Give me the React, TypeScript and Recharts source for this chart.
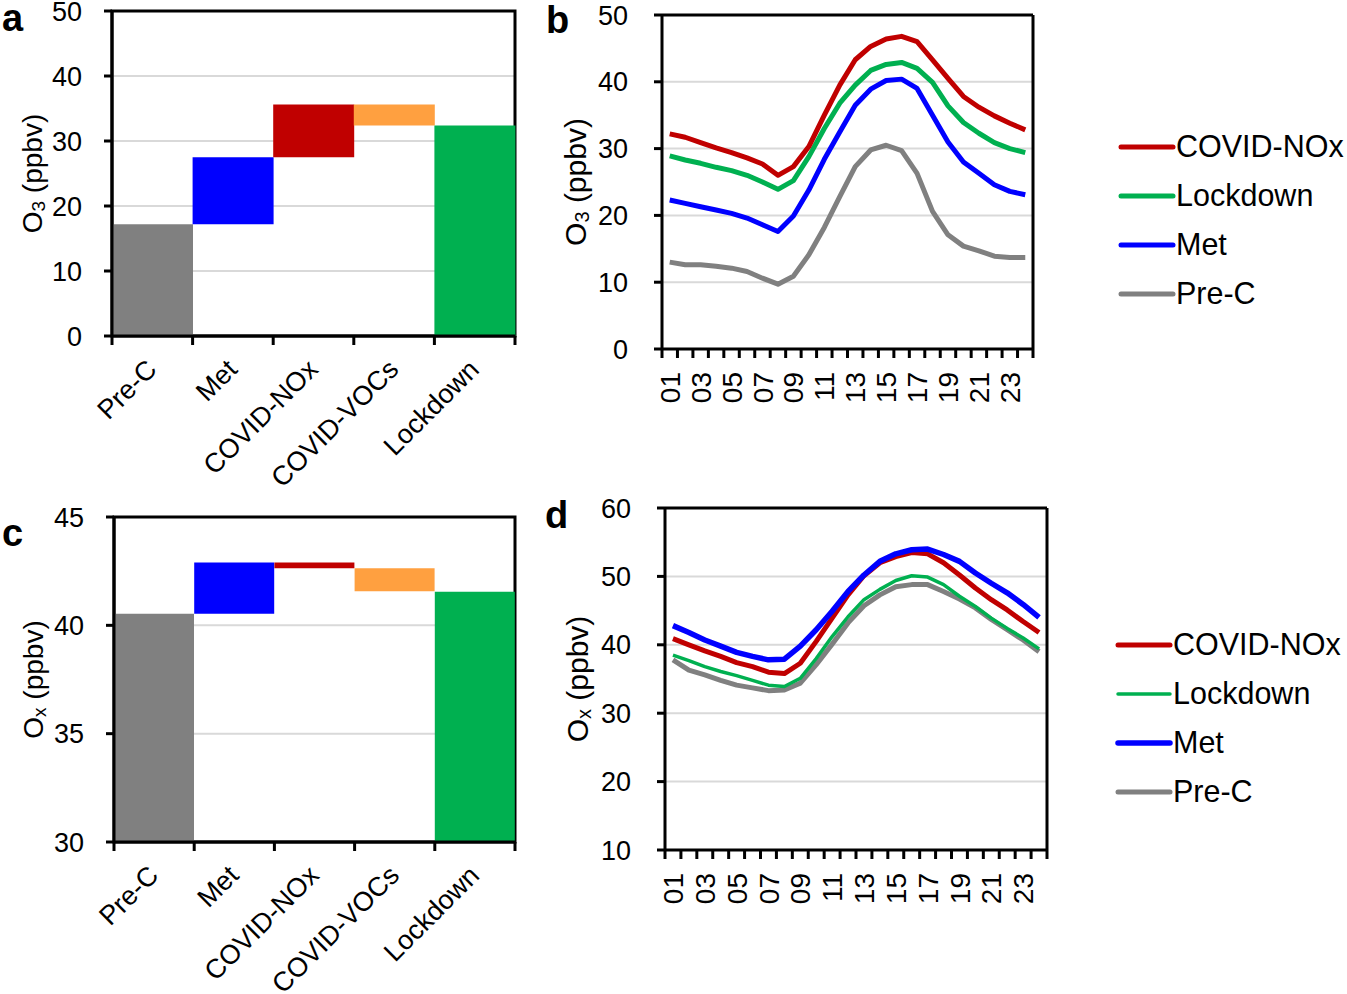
import React from "react";
import {
  BarChart,
  Bar,
  Cell,
  LineChart,
  Line,
  XAxis,
  YAxis,
  CartesianGrid,
  ReferenceArea,
  Legend,
} from "recharts";

const FONT = "'Liberation Sans', Arial, sans-serif";

// waterfall steps (panels a and c)
const steps = ["Pre-C", "Met", "COVID-NOx", "COVID-VOCs", "Lockdown"];
const stepColors = ["#808080", "#0000FF", "#C00000", "#FFA040", "#00B050"];

// a: O3 (ppbv), bottom and top of each step
const o3StepLow = [0, 17.2, 27.5, 32.4, 0];
const o3StepHigh = [17.2, 27.5, 35.6, 35.6, 32.4];

// c: Ox (ppbv)
const oxStepLow = [0, 40.54, 42.64, 41.57, 0];
const oxStepHigh = [40.54, 42.9, 42.9, 42.64, 41.55];

// diurnal cycle (panels b and d)
const hours = [
  "01", "02", "03", "04", "05", "06", "07", "08", "09", "10", "11", "12",
  "13", "14", "15", "16", "17", "18", "19", "20", "21", "22", "23", "24",
];

const o3Nox = [32.2, 31.7, 30.9, 30.1, 29.4, 28.6, 27.7, 26.0, 27.3, 30.3, 35.0, 39.5, 43.3, 45.3, 46.4, 46.8, 46.0, 43.3, 40.5, 37.8, 36.2, 34.9, 33.8, 32.8];
const o3Lockdown = [28.9, 28.3, 27.8, 27.2, 26.7, 26.0, 25.0, 23.9, 25.2, 28.8, 33.0, 36.8, 39.5, 41.7, 42.6, 42.9, 42.0, 39.9, 36.4, 33.9, 32.3, 30.9, 30.0, 29.4];
const o3Met = [22.3, 21.8, 21.3, 20.8, 20.3, 19.6, 18.6, 17.6, 19.9, 23.8, 28.4, 32.5, 36.5, 38.9, 40.2, 40.4, 39.0, 35.0, 31.0, 28.0, 26.3, 24.6, 23.6, 23.1];
const o3PreC = [13.0, 12.6, 12.6, 12.4, 12.1, 11.6, 10.6, 9.7, 10.9, 14.1, 18.2, 22.8, 27.3, 29.8, 30.5, 29.7, 26.3, 20.6, 17.1, 15.4, 14.7, 13.9, 13.7, 13.7];

const oxMet = [42.8, 41.8, 40.7, 39.8, 38.9, 38.3, 37.8, 37.9, 39.8, 42.2, 44.9, 47.8, 50.2, 52.2, 53.3, 53.9, 54.0, 53.2, 52.2, 50.5, 49.0, 47.6, 45.9, 44.0];
const oxNox = [40.9, 40.0, 39.1, 38.3, 37.4, 36.8, 36.0, 35.8, 37.3, 40.5, 43.9, 47.3, 50.1, 52.0, 52.9, 53.5, 53.3, 52.0, 50.2, 48.3, 46.6, 45.1, 43.4, 41.8];
const oxLockdown = [38.5, 37.7, 36.8, 36.1, 35.5, 34.8, 34.1, 33.9, 35.1, 38.0, 41.2, 44.1, 46.6, 48.1, 49.4, 50.1, 49.9, 48.8, 47.1, 45.6, 43.9, 42.4, 41.0, 39.4];
const oxPreC = [37.8, 36.3, 35.6, 34.8, 34.1, 33.7, 33.3, 33.4, 34.4, 37.1, 40.1, 43.2, 45.7, 47.3, 48.5, 48.8, 48.8, 47.8, 46.7, 45.4, 43.7, 42.2, 40.7, 39.0];

const o3Ticks = [0, 10, 20, 30, 40, 50];
const oxStepTicks = [30, 35, 40, 45];
const oxTicks = [10, 20, 30, 40, 50, 60];

// legend order, as in the figure
const seriesInfo = [
  { key: "nox", name: "COVID-NOx", color: "#C00000" },
  { key: "lockdown", name: "Lockdown", color: "#00B050" },
  { key: "met", name: "Met", color: "#0000FF" },
  { key: "preC", name: "Pre-C", color: "#808080" },
];

const stepData = (low: number[], high: number[]) =>
  steps.map((s, i) => ({ step: s, range: [low[i], high[i]] }));

const hourData = (nox: number[], lockdown: number[], met: number[], preC: number[]) =>
  hours.map((h, i) => ({ hour: h, nox: nox[i], lockdown: lockdown[i], met: met[i], preC: preC[i] }));

const axisLine = { stroke: "#000", strokeWidth: 3 };

function AxisTitle(props: any) {
  const { viewBox, sub, dx, size } = props;
  const vb = viewBox || { x: 0, y: 0, width: 0, height: 0 };
  const cx = vb.x + dx;
  const cy = vb.y + vb.height / 2;
  const subSize = Math.round(size * 0.68);
  const shift = Math.round(size * 0.22);
  return (
    <text
      x={cx}
      y={cy}
      transform={`rotate(-90 ${cx} ${cy})`}
      textAnchor="middle"
      dominantBaseline="central"
      fontFamily={FONT}
      fontSize={size}
      fill="#000"
    >
      <tspan>O</tspan>
      <tspan fontSize={subSize} dy={shift}>{sub}</tspan>
      <tspan dy={-shift}> (ppbv)</tspan>
    </text>
  );
}

function StepTick(props: any) {
  const { x, y, payload, index, bw } = props;
  const ax = x + 6;
  const ay = y + 35;
  return (
    <g>
      <line x1={x - bw / 2} y1={y} x2={x - bw / 2} y2={y + 9} stroke="#000" strokeWidth={3} />
      {index === steps.length - 1 && (
        <line x1={x + bw / 2} y1={y} x2={x + bw / 2} y2={y + 9} stroke="#000" strokeWidth={3} />
      )}
      <text
        x={ax}
        y={ay}
        transform={`rotate(-45 ${ax} ${ay})`}
        textAnchor="end"
        fontFamily={FONT}
        fontSize={27}
        fill="#000"
      >
        {payload.value}
      </text>
    </g>
  );
}

function HourTick(props: any) {
  const { x, y, payload, index, bw, gap } = props;
  const ay = y + gap;
  return (
    <g>
      <line x1={x - bw / 2} y1={y} x2={x - bw / 2} y2={y + 9} stroke="#000" strokeWidth={3} />
      {index === hours.length - 1 && (
        <line x1={x + bw / 2} y1={y} x2={x + bw / 2} y2={y + 9} stroke="#000" strokeWidth={3} />
      )}
      {index % 2 === 0 && (
        <text
          x={x}
          y={ay}
          dy="0.36em"
          transform={`rotate(-90 ${x} ${ay})`}
          textAnchor="end"
          fontFamily={FONT}
          fontSize={28}
          fill="#000"
        >
          {payload.value}
        </text>
      )}
    </g>
  );
}

function LegendBox({ widths }: { widths: number[] }) {
  return (
    <div style={{ fontFamily: FONT, fontSize: 30.5, color: "#000" }}>
      {seriesInfo.map((s, i) => (
        <div key={s.key} style={{ display: "flex", alignItems: "center", height: 49 }}>
          <svg width={58} height={10} style={{ flex: "none" }}>
            <line x1={3} x2={55} y1={5} y2={5} stroke={s.color} strokeWidth={widths[i]} strokeLinecap="round" />
          </svg>
          <span style={{ whiteSpace: "nowrap", lineHeight: 1 }}>{s.name}</span>
        </div>
      ))}
    </div>
  );
}

const tickStyle = { fill: "#000", fontSize: 27, fontFamily: FONT };

function StepChart(props: {
  low: number[];
  high: number[];
  domain: [number, number];
  ticks: number[];
  sub: string;
  top: number;
  yWidth: number;
  right: number;
  titleDx: number;
}) {
  const { low, high, domain, ticks, sub, top, yWidth, right, titleDx } = props;
  const width = 540;
  const bw = (width - yWidth - right) / steps.length;
  return (
    <BarChart
      width={width}
      height={top + 325 + 152}
      data={stepData(low, high)}
      margin={{ top, right, bottom: 0, left: 0 }}
      barCategoryGap={0}
      barGap={0}
    >
      <CartesianGrid vertical={false} stroke="#D9D9D9" strokeWidth={2} />
      <XAxis
        dataKey="step"
        interval={0}
        height={152}
        tickSize={0}
        tickMargin={0}
        tickLine={false}
        axisLine={axisLine}
        tick={(p: any) => <StepTick {...p} bw={bw} />}
      />
      <YAxis
        type="number"
        domain={domain}
        ticks={ticks}
        interval={0}
        allowDataOverflow
        width={yWidth}
        tickSize={8}
        tickMargin={22}
        tick={tickStyle}
        tickLine={axisLine}
        axisLine={axisLine}
        label={<AxisTitle sub={sub} dx={titleDx} size={28} />}
      />
      <Bar dataKey="range" isAnimationActive={false}>
        {steps.map((s, i) => (
          <Cell key={s} fill={stepColors[i]} />
        ))}
      </Bar>
      <ReferenceArea y1={domain[0]} y2={domain[1]} fill="none" stroke="#000" strokeWidth={3} />
    </BarChart>
  );
}

function DiurnalChart(props: {
  data: any[];
  domain: [number, number];
  ticks: number[];
  sub: string;
  top: number;
  plotH: number;
  yWidth: number;
  right: number;
  titleDx: number;
  labelGap: number;
  widths: number[];
  legendTop: number;
  legendLeft: number;
}) {
  const { data, domain, ticks, sub, top, plotH, yWidth, right, titleDx, labelGap, widths, legendTop, legendLeft } = props;
  const width = 807;
  const height = 440;
  const bw = (width - yWidth - right) / hours.length;
  const widthOf = (key: string) => widths[seriesInfo.findIndex((s) => s.key === key)];
  const colorOf = (key: string) => seriesInfo.find((s) => s.key === key)!.color;
  const drawOrder = ["preC", "lockdown", "nox", "met"];
  return (
    <LineChart width={width} height={height} data={data} margin={{ top, right, bottom: 0, left: 0 }}>
      <CartesianGrid vertical={false} stroke="#D9D9D9" strokeWidth={2} />
      {/* top and right edges of the plot frame */}
      <CartesianGrid
        stroke="#000"
        strokeWidth={3}
        horizontalCoordinatesGenerator={({ offset }: any) => [offset.top]}
        verticalCoordinatesGenerator={({ offset }: any) => [offset.left + offset.width]}
      />
      <XAxis
        dataKey="hour"
        interval={0}
        height={height - top - plotH}
        padding={{ left: bw / 2, right: bw / 2 }}
        tickSize={0}
        tickMargin={0}
        tickLine={false}
        axisLine={axisLine}
        tick={(p: any) => <HourTick {...p} bw={bw} gap={labelGap} />}
      />
      <YAxis
        type="number"
        domain={domain}
        ticks={ticks}
        interval={0}
        width={yWidth}
        tickSize={8}
        tickMargin={26}
        tick={tickStyle}
        tickLine={axisLine}
        axisLine={axisLine}
        label={<AxisTitle sub={sub} dx={titleDx} size={30} />}
      />
      {drawOrder.map((k) => (
        <Line
          key={k}
          type="linear"
          dataKey={k}
          name={seriesInfo.find((s) => s.key === k)!.name}
          stroke={colorOf(k)}
          strokeWidth={widthOf(k)}
          strokeLinejoin="round"
          dot={false}
          activeDot={false}
          isAnimationActive={false}
        />
      ))}
      <Legend
        layout="vertical"
        align="center"
        verticalAlign="middle"
        wrapperStyle={{ left: legendLeft, top: legendTop, width: 250 }}
        content={() => <LegendBox widths={widths} />}
      />
    </LineChart>
  );
}

const letterStyle: React.CSSProperties = {
  position: "absolute",
  fontFamily: FONT,
  fontWeight: "bold",
  fontSize: 38,
  lineHeight: "38px",
  color: "#000",
};

export default function App() {
  return (
    <div style={{ position: "absolute", left: 0, top: 0, width: 1347, height: 994, background: "#fff", overflow: "hidden" }}>
      <div style={{ position: "absolute", left: 0, top: 0 }}>
        <StepChart low={o3StepLow} high={o3StepHigh} domain={[0, 50]} ticks={o3Ticks} sub="3" top={11} yWidth={112} right={25} titleDx={32} />
      </div>
      <div style={{ position: "absolute", left: 0, top: 490 }}>
        <StepChart low={oxStepLow} high={oxStepHigh} domain={[30, 45]} ticks={oxStepTicks} sub="x" top={27} yWidth={114} right={25} titleDx={33} />
      </div>
      <div style={{ position: "absolute", left: 540, top: 0 }}>
        <DiurnalChart
          data={hourData(o3Nox, o3Lockdown, o3Met, o3PreC)}
          domain={[0, 50]}
          ticks={o3Ticks}
          sub="3"
          top={15}
          plotH={334}
          yWidth={122}
          right={314}
          titleDx={35}
          labelGap={23}
          widths={[5, 5, 5, 5]}
          legendTop={122}
          legendLeft={578}
        />
      </div>
      <div style={{ position: "absolute", left: 540, top: 490 }}>
        <DiurnalChart
          data={hourData(oxNox, oxLockdown, oxMet, oxPreC)}
          domain={[10, 60]}
          ticks={oxTicks}
          sub="x"
          top={18}
          plotH={342}
          yWidth={125}
          right={300}
          titleDx={37}
          labelGap={23}
          widths={[5, 3.5, 5.5, 5]}
          legendTop={130}
          legendLeft={575}
        />
      </div>
      <div style={{ ...letterStyle, left: 2, top: -1 }}>a</div>
      <div style={{ ...letterStyle, left: 546, top: 1 }}>b</div>
      <div style={{ ...letterStyle, left: 2, top: 514 }}>c</div>
      <div style={{ ...letterStyle, left: 545, top: 496 }}>d</div>
    </div>
  );
}
